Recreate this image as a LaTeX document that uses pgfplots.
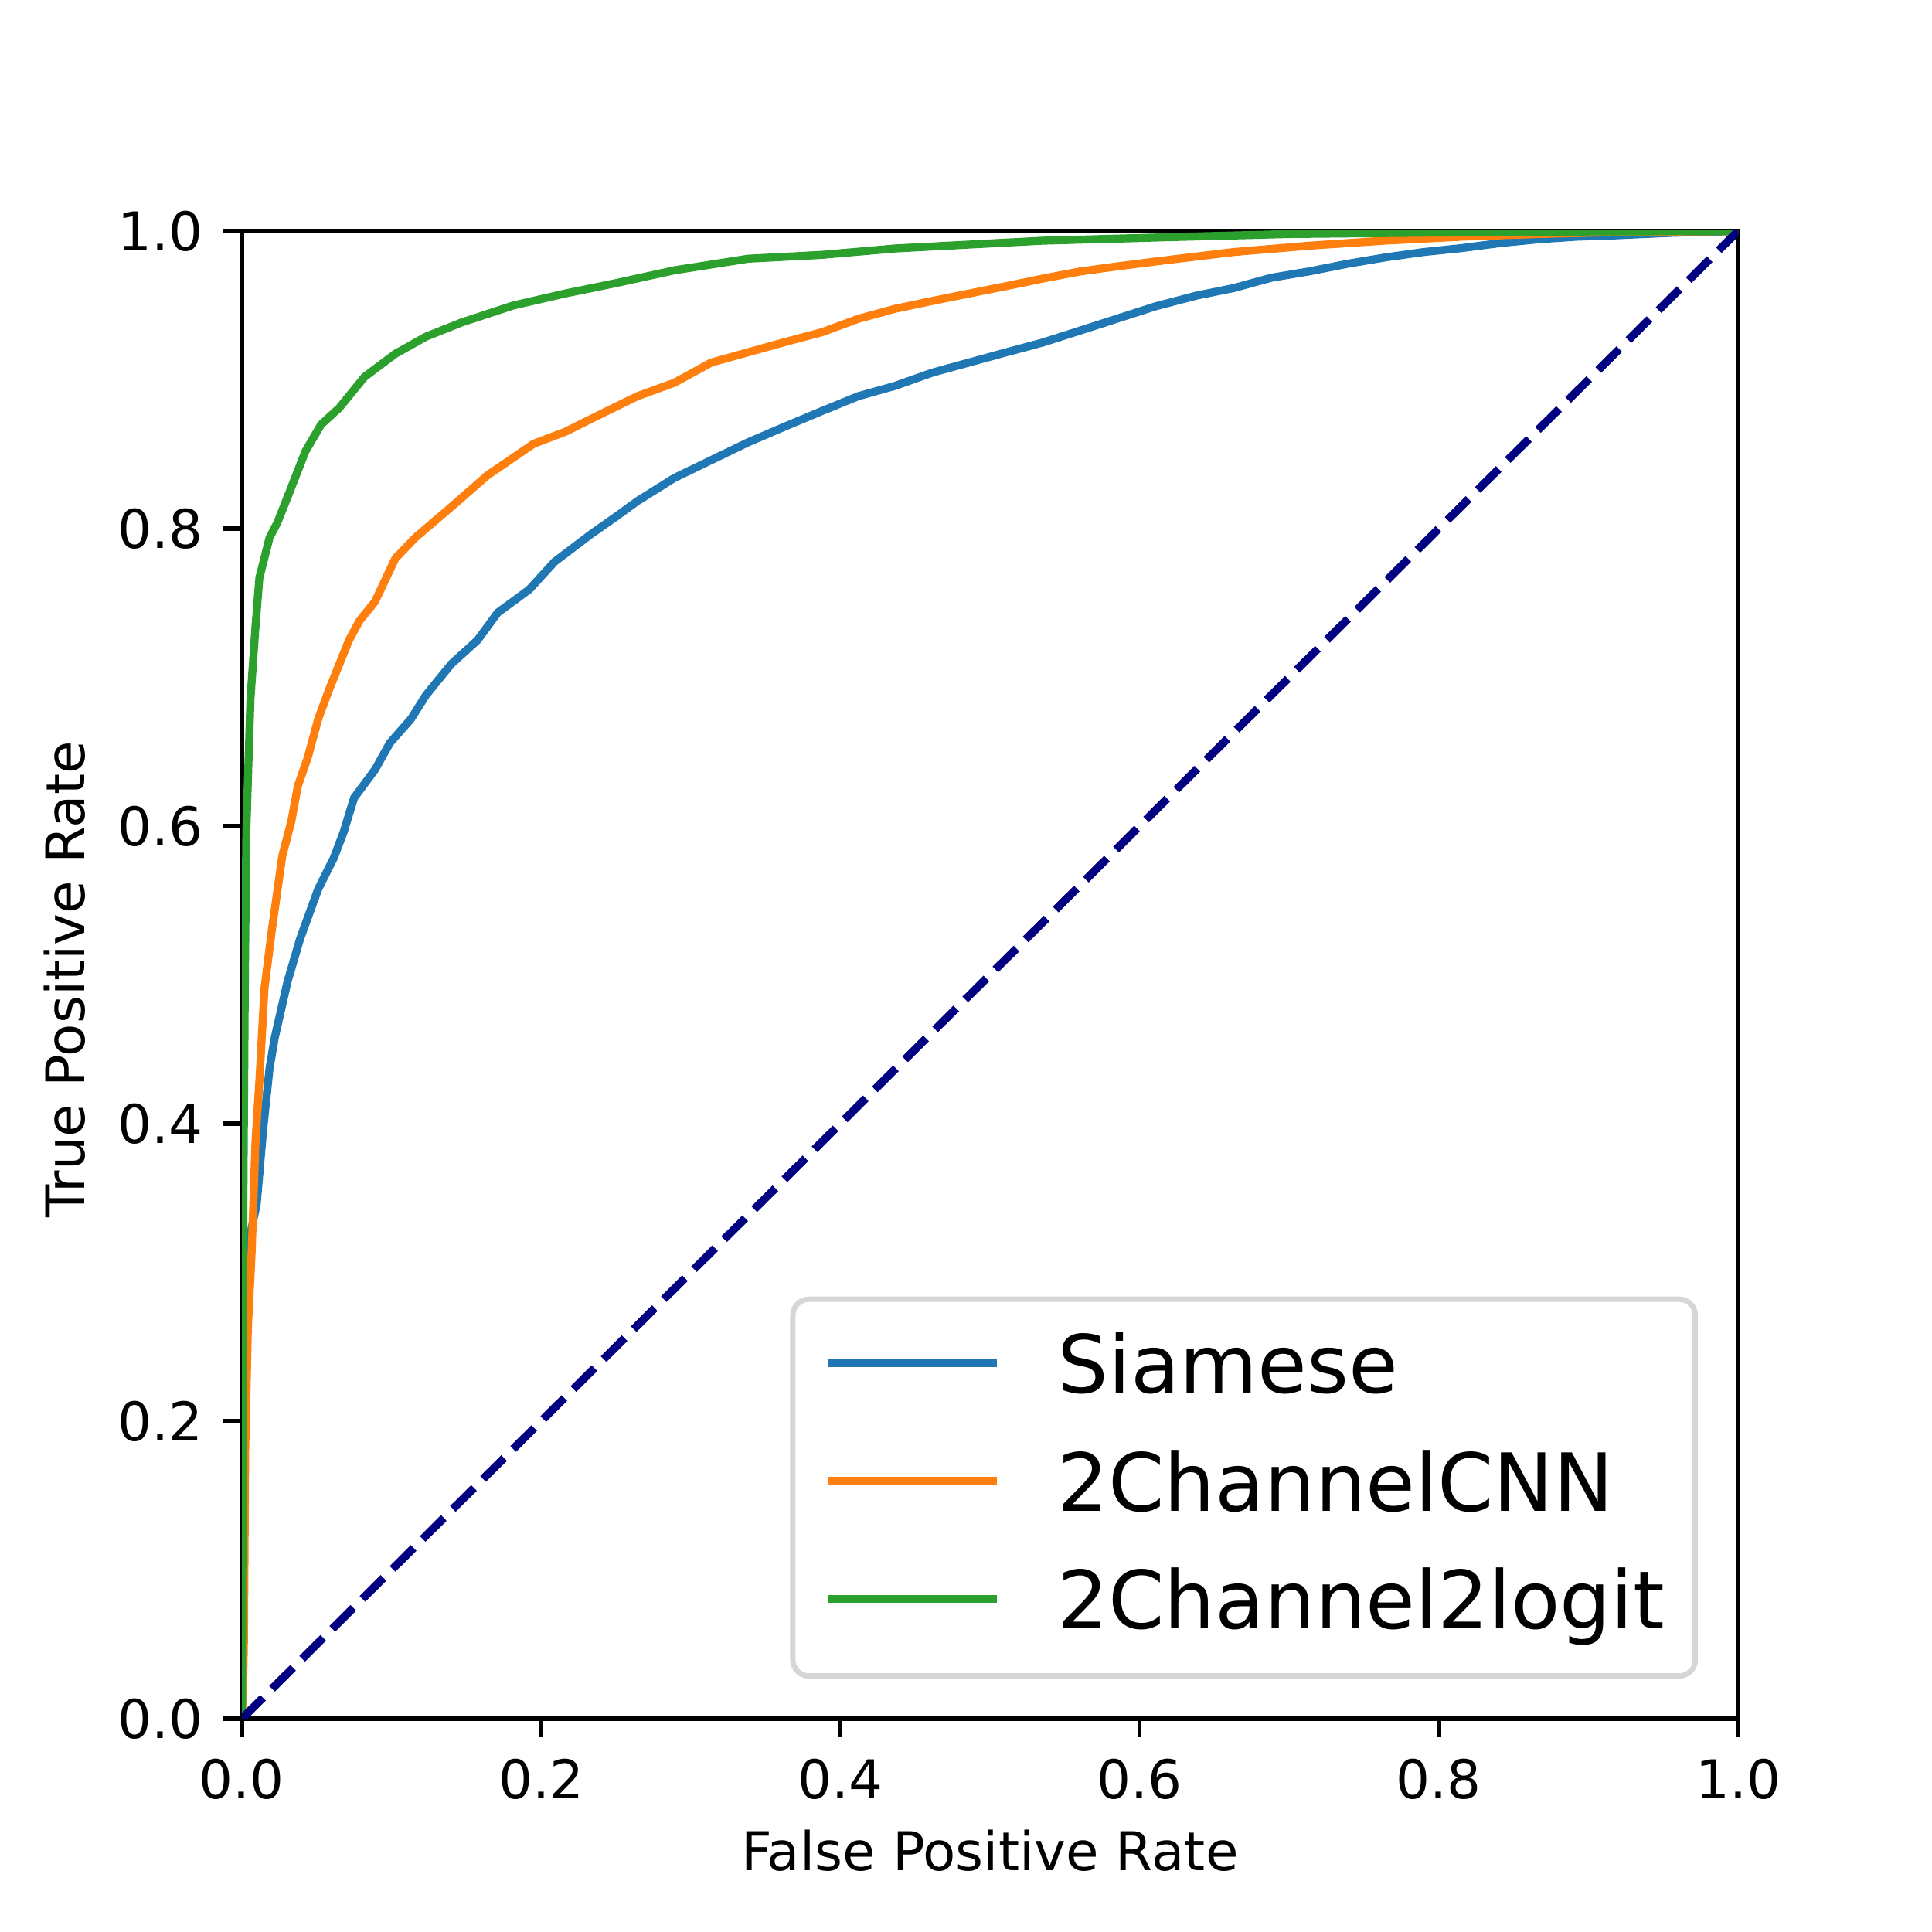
\documentclass[border=0pt]{standalone}
\usepackage{fontspec}
\setmainfont{DejaVu Sans}
\usepackage{pgfplots}
\pgfplotsset{compat=1.18}
\definecolor{c0}{HTML}{1F77B4}
\definecolor{c1}{HTML}{FF7F0E}
\definecolor{c2}{HTML}{2CA02C}
\definecolor{navyc}{HTML}{000080}
\definecolor{legedge}{rgb}{0.84,0.84,0.84}
\begin{document}
\begin{tikzpicture}
\begin{axis}[
  scale only axis,
  width=3.872in, height=3.85in,
  xmin=0, xmax=1, ymin=0, ymax=1,
  xtick={0,0.2,0.4,0.6,0.8,1}, ytick={0,0.2,0.4,0.6,0.8,1},
  tick align=outside, major tick length=3.5pt, tick pos=left,
  every tick/.style={black, line width=0.8pt},
  axis line style={line width=0.8pt},
  /pgf/number format/assume math mode=true,
  tick label style={font=\fontsize{10}{12}\selectfont,
    /pgf/number format/fixed, /pgf/number format/fixed zerofill,
    /pgf/number format/precision=1},
  xticklabel style={inner sep=0pt, anchor=north, yshift=-3.8pt},
  yticklabel style={inner sep=0pt, anchor=east, xshift=-3.63pt},
  xlabel={False Positive Rate}, ylabel={True Positive Rate},
  label style={font=\fontsize{10}{12}\selectfont},
  xlabel style={at={(axis description cs:0.5,-0.1023)}, anchor=base, inner sep=0pt},
  ylabel style={at={(axis description cs:-0.1051,0.497)}, anchor=base, inner sep=0pt},
  no markers,
  legend style={
    at={(1,0)}, anchor=south east, xshift=-7.5pt, yshift=7.5pt,
    draw=legedge, line width=1pt, rounded corners=3pt, fill=white,
    font=\fontsize{15}{18}\selectfont,
    inner xsep=5.7pt, inner ysep=5.6pt, row sep=6.83pt, column sep=10.6pt,
    nodes={inner sep=0pt, text height=12pt, text depth=3.2pt},
  },
  legend cell align=left,
  legend image code/.code={\draw[#1, line width=1.5pt] (0pt,1.2pt) -- (31.7pt,1.2pt);},
]
\addplot[c0, line width=1.5pt] coordinates {
(0,0)(0.0005,0.1)(0.001,0.2)(0.002,0.29)(0.003,0.313)(0.0099,0.346)(0.0142,0.396)
(0.0185,0.4374)(0.022,0.458)(0.0305,0.4955)(0.039,0.5245)(0.051,0.5577)(0.0614,0.5785)
(0.068,0.596)(0.075,0.619)(0.089,0.638)(0.099,0.656)(0.113,0.672)(0.123,0.688)
(0.140,0.709)(0.1575,0.725)(0.171,0.7435)(0.192,0.759)(0.209,0.7777)(0.233,0.796)
(0.250,0.808)(0.2644,0.8185)(0.289,0.834)(0.3137,0.846)(0.3384,0.858)(0.363,0.8686)
(0.3877,0.879)(0.412,0.889)(0.4368,0.896)(0.4614,0.9048)(0.486,0.9116)(0.511,0.9185)
(0.535,0.925)(0.560,0.933)(0.5847,0.941)(0.611,0.9495)(0.638,0.9566)(0.663,0.9617)
(0.688,0.9686)(0.714,0.973)(0.739,0.978)(0.765,0.9824)(0.790,0.9859)(0.815,0.9885)
(0.841,0.9919)(0.867,0.9945)(0.892,0.9962)(0.918,0.9971)(0.956,0.9988)(1,1)
};
\addlegendentry{Siamese}
\addplot[c1, line width=1.5pt] coordinates {
(0,0)(0.001,0.03)(0.0014,0.0556)(0.0022,0.18)(0.004,0.263)(0.0065,0.313)(0.0091,0.388)
(0.0117,0.429)(0.0151,0.491)(0.020,0.53)(0.027,0.58)(0.033,0.603)(0.0374,0.627)
(0.044,0.646)(0.051,0.672)(0.058,0.691)(0.0716,0.725)(0.0786,0.738)(0.089,0.751)
(0.1026,0.780)(0.116,0.794)(0.140,0.8146)(0.164,0.8357)(0.195,0.857)(0.216,0.865)
(0.240,0.877)(0.2644,0.889)(0.289,0.898)(0.3137,0.9116)(0.3384,0.9185)(0.363,0.9254)
(0.3877,0.932)(0.412,0.941)(0.4368,0.9478)(0.4614,0.953)(0.486,0.958)(0.511,0.963)
(0.535,0.968)(0.560,0.9728)(0.5847,0.9762)(0.612,0.9797)(0.663,0.9859)(0.714,0.9902)
(0.765,0.9936)(0.815,0.9962)(0.867,0.998)(0.918,0.9993)(1,1)
};
\addlegendentry{2ChannelCNN}
\addplot[c2, line width=1.5pt] coordinates {
(0,0)(0.001,0.35)(0.002,0.5)(0.003,0.598)(0.0057,0.685)(0.009,0.733)(0.0117,0.767)
(0.0185,0.794)(0.0237,0.804)(0.032,0.825)(0.0425,0.852)(0.053,0.870)(0.065,0.881)
(0.082,0.902)(0.1026,0.9175)(0.123,0.929)(0.147,0.9386)(0.1815,0.950)(0.216,0.958)
(0.250,0.965)(0.289,0.9736)(0.3384,0.9814)(0.3877,0.984)(0.4368,0.9883)(0.486,0.9909)
(0.535,0.9935)(0.624,0.996)(0.70,0.998)(0.80,0.999)(0.90,0.9997)(1,1)
};
\addlegendentry{2Channel2logit}
\addplot[navyc, line width=1.5pt, dash pattern=on 5.55pt off 2.4pt, forget plot] coordinates {(0,0)(1,1)};
\end{axis}
\path (-0.626in,-0.552in) rectangle ++(5in,5in);
\end{tikzpicture}
\end{document}
